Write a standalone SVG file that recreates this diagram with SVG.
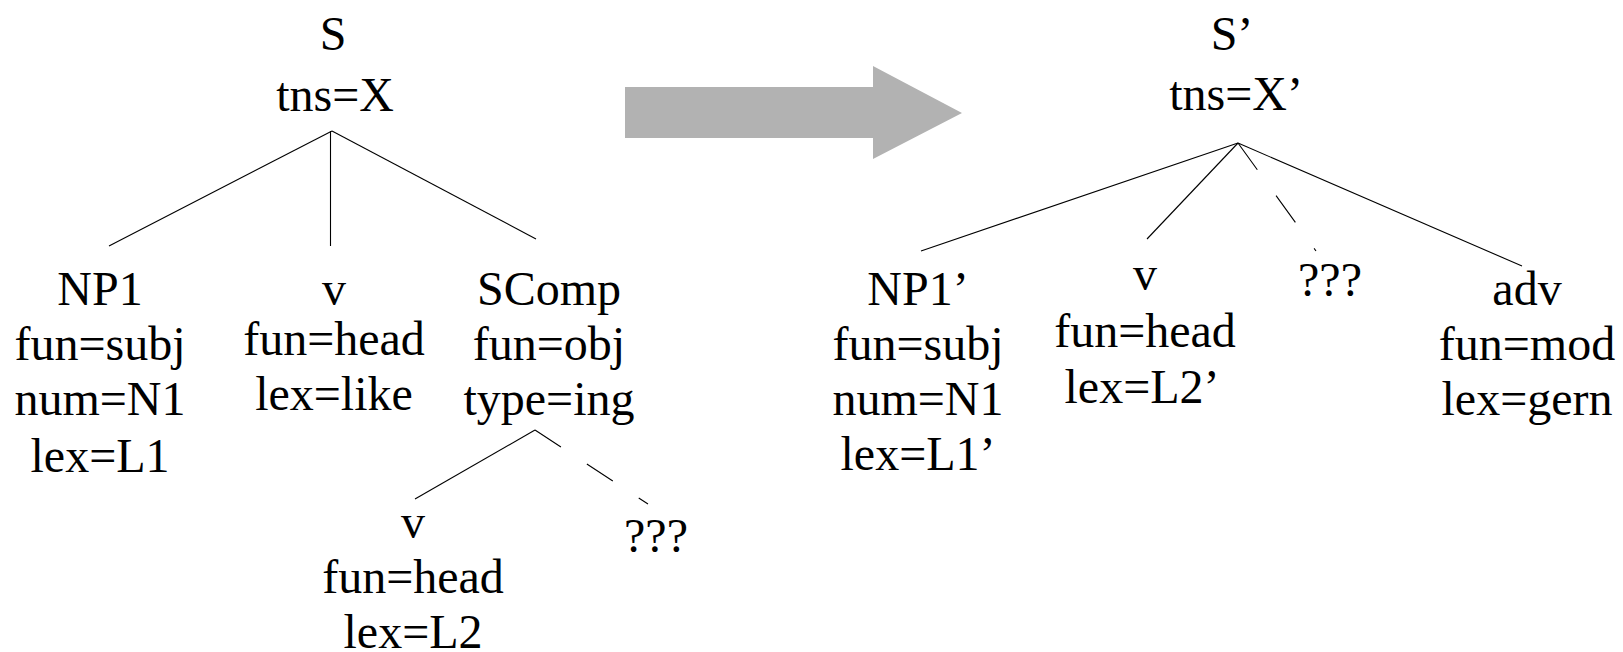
<svg xmlns="http://www.w3.org/2000/svg" width="1623" height="652" viewBox="0 0 1623 652">
  <style>
    text { font-family: "Liberation Serif", "Times New Roman", serif; font-size: 48px; fill: #000; text-anchor: middle; }
    .edge { stroke: #000; stroke-width: 1.1; fill: none; }
    .dash-a { stroke-dasharray: 31 31; }
    .dash-b { stroke-dasharray: 33 32; }
  </style>
  <rect width="1623" height="652" fill="#fff"/>

  <!-- transformation arrow -->
  <polygon id="transfer-arrow" points="625,87 873,87 873,66 962,113 873,159 873,138 625,138" fill="#b2b2b2"/>

  <!-- tree edges -->
  <g id="connectors">
    <!-- source tree -->
    <line class="edge" x1="332" y1="131" x2="109" y2="246"/>
    <line class="edge" x1="330.5" y1="131" x2="330.5" y2="246"/>
    <line class="edge" x1="332" y1="131" x2="536" y2="239"/>
    <line class="edge" x1="535" y1="430" x2="415" y2="499"/>
    <line class="edge dash-a" x1="535" y1="430" x2="648" y2="504"/>
    <!-- target tree -->
    <line class="edge" x1="1238" y1="143" x2="921" y2="251"/>
    <line class="edge" x1="1238" y1="143" x2="1147" y2="239"/>
    <line class="edge dash-b" x1="1238" y1="143" x2="1316" y2="251"/>
    <line class="edge" x1="1238" y1="143" x2="1522" y2="266"/>
  </g>

  <!-- source tree nodes -->
  <g id="node-S">
    <text x="333" y="50">S</text>
    <text x="335" y="111">tns=X</text>
  </g>
  <g id="node-NP1">
    <text x="100" y="305">NP1</text>
    <text x="100" y="360">fun=subj</text>
    <text x="100" y="415">num=N1</text>
    <text x="100" y="472">lex=L1</text>
  </g>
  <g id="node-v">
    <text x="334" y="305">v</text>
    <text x="334" y="355">fun=head</text>
    <text x="334" y="410">lex=like</text>
  </g>
  <g id="node-SComp">
    <text x="549" y="305">SComp</text>
    <text x="549" y="360">fun=obj</text>
    <text x="549" y="415">type=ing</text>
  </g>
  <g id="node-v2">
    <text x="413" y="538">v</text>
    <text x="413" y="593">fun=head</text>
    <text x="413" y="648">lex=L2</text>
  </g>
  <g id="node-unknown1">
    <text x="656" y="552">???</text>
  </g>

  <!-- target tree nodes -->
  <g id="node-S-prime">
    <text x="1232" y="50">S’</text>
    <text x="1236" y="110">tns=X’</text>
  </g>
  <g id="node-NP1-prime">
    <text x="918" y="305">NP1’</text>
    <text x="918" y="360">fun=subj</text>
    <text x="918" y="415">num=N1</text>
    <text x="918" y="470">lex=L1’</text>
  </g>
  <g id="node-v-prime">
    <text x="1145" y="290">v</text>
    <text x="1145" y="347">fun=head</text>
    <text x="1142" y="403">lex=L2’</text>
  </g>
  <g id="node-unknown2">
    <text x="1330" y="296">???</text>
  </g>
  <g id="node-adv">
    <text x="1527" y="305">adv</text>
    <text x="1527" y="360">fun=mod</text>
    <text x="1527" y="415">lex=gern</text>
  </g>
</svg>
